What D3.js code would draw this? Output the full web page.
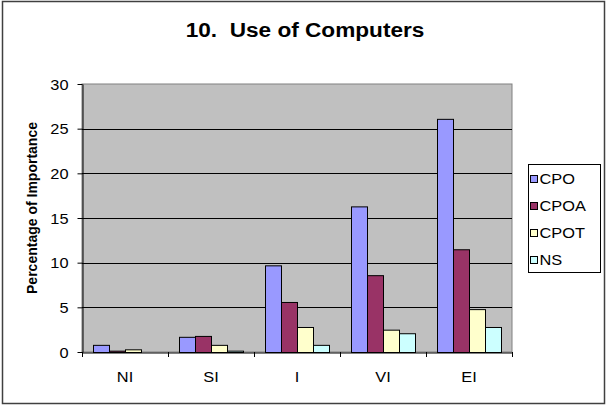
<!DOCTYPE html>
<html>
<head>
<meta charset="utf-8">
<script src="https://cdn.jsdelivr.net/npm/d3@7"></script>
<style>
  html, body { margin: 0; padding: 0; background: #fff; }
  svg { display: block; font-family: "Liberation Sans", Arial, sans-serif; }
  text { white-space: pre; }
</style>
</head>
<body>
<svg id="chart" width="607" height="406"></svg>
<script>
const categories = ["NI", "SI", "I", "VI", "EI"];
const seriesNames = ["CPO", "CPOA", "CPOT", "NS"];
const cpo  = [0.8, 1.7, 9.7, 16.3, 26.1];
const cpoa = [0.15, 1.8, 5.6, 8.6, 11.5];
const cpot = [0.3, 0.8, 2.8, 2.5, 4.8];
const ns   = [0, 0.15, 0.8, 2.1, 2.8];
const yTicks = [0, 5, 10, 15, 20, 25, 30];
const colors = ["#9999FF", "#993366", "#FFFFCC", "#CCFFFF"];
const titleText = "10.  Use of Computers";
const yLabel = "Percentage of Importance";

const seriesValues = [cpo, cpoa, cpot, ns];
const table = categories.map((c, i) => {
  const row = { cat: c };
  seriesNames.forEach((s, j) => row[s] = seriesValues[j][i]);
  return row;
});

const SX = 1.17; // horizontal text stretch
const svg = d3.select("#chart");
const m = { left: 82, right: 512, top: 84, bottom: 352 };

// outer border
svg.append("rect").attr("x", 2.5).attr("y", 1.5).attr("width", 602).attr("height", 402)
  .attr("fill", "#fff").attr("stroke", "#404040").attr("stroke-width", 1.5);

const x0 = d3.scaleBand().domain(categories).range([m.left, m.right]).paddingInner(0).paddingOuter(0);
const x1 = d3.scaleBand().domain(seriesNames).range([0, x0.bandwidth()]).paddingInner(0).paddingOuter(0.6875);
const y = d3.scaleLinear().domain([0, 30]).range([m.bottom, m.top]);

// plot background
svg.append("rect").attr("x", m.left).attr("y", m.top)
  .attr("width", m.right - m.left).attr("height", m.bottom - m.top)
  .attr("fill", "#C0C0C0").attr("stroke", "#808080").attr("stroke-width", 1);

// gridlines
svg.append("g").selectAll("line").data(yTicks.filter(t => t > 0 && t < 30)).join("line")
  .attr("x1", m.left).attr("x2", m.right)
  .attr("y1", d => Math.round(y(d)) + 0.5).attr("y2", d => Math.round(y(d)) + 0.5)
  .attr("stroke", "#000").attr("stroke-width", 1);

// bars
svg.append("g").selectAll("g").data(table).join("g")
  .attr("transform", d => `translate(${x0(d.cat)},0)`)
  .selectAll("rect").data(d => seriesNames.map((s, j) => ({ s, j, v: d[s] }))).join("rect")
  .attr("x", d => x1(d.s) + 0.5)
  .attr("y", d => y(d.v) + 0.5)
  .attr("width", x1.bandwidth())
  .attr("height", d => Math.max(0, y(0) - y(d.v)))
  .attr("fill", d => colors[d.j])
  .attr("stroke", "#000").attr("stroke-width", 1);

// y axis
const yAxis = svg.append("g").attr("transform", `translate(${m.left + 0.5},0)`)
  .call(d3.axisLeft(y).tickValues(yTicks).tickSize(5).tickSizeOuter(0).tickPadding(6));
yAxis.select(".domain").attr("stroke", "#000");
yAxis.selectAll(".tick line").attr("stroke", "#000");
yAxis.selectAll(".tick text")
  .attr("font-size", 14).attr("fill", "#000")
  .attr("font-family", "Liberation Sans, Arial, sans-serif")
  .attr("x", -14 / SX).attr("dy", "0.36em")
  .attr("transform", `scale(${SX},1)`);

// x axis
const xAxis = svg.append("g").attr("transform", `translate(0,${m.bottom + 0.5})`)
  .call(d3.axisBottom(x0).tickSize(0).tickSizeOuter(0).tickPadding(0));
xAxis.select(".domain").attr("stroke", "#000");
xAxis.selectAll(".tick text").remove();
xAxis.selectAll(".tick").append("text")
  .attr("transform", `translate(0,29) scale(${SX},1)`)
  .attr("text-anchor", "middle")
  .attr("font-size", 14).attr("fill", "#000")
  .attr("font-family", "Liberation Sans, Arial, sans-serif")
  .text(d => d);
// boundary ticks
const bounds = categories.map(c => x0(c)).concat([x0(categories[categories.length - 1]) + x0.bandwidth()]);
svg.append("g").selectAll("line").data(bounds).join("line")
  .attr("x1", d => Math.round(d) + 0.5).attr("x2", d => Math.round(d) + 0.5)
  .attr("y1", m.bottom).attr("y2", m.bottom + 5)
  .attr("stroke", "#000");

// title
svg.append("text").attr("transform", `translate(305,36.5) scale(1.16,1)`)
  .attr("text-anchor", "middle").attr("font-size", 19.5).attr("font-weight", "bold")
  .attr("fill", "#000").attr("xml:space", "preserve").text(titleText);

// y label
svg.append("text").attr("transform", "translate(37,208) rotate(-90)")
  .attr("text-anchor", "middle").attr("font-size", 14).attr("font-weight", "bold")
  .attr("fill", "#000").text(yLabel);

// legend
const lg = svg.append("g");
lg.append("rect").attr("x", 528.5).attr("y", 164.5).attr("width", 72).attr("height", 108)
  .attr("fill", "#fff").attr("stroke", "#000").attr("stroke-width", 1);
const items = lg.selectAll("g.item").data(seriesNames).join("g").attr("class", "item")
  .attr("transform", (d, i) => `translate(0,${178.5 + i * 27})`);
items.append("rect").attr("x", 530.5).attr("y", -3).attr("width", 7).attr("height", 7)
  .attr("fill", (d, i) => colors[i]).attr("stroke", "#000").attr("stroke-width", 1);
items.append("text").attr("transform", `translate(539.5,5.5) scale(${SX},1)`)
  .attr("font-size", 14).attr("fill", "#000").text(d => d);
</script>
</body>
</html>
